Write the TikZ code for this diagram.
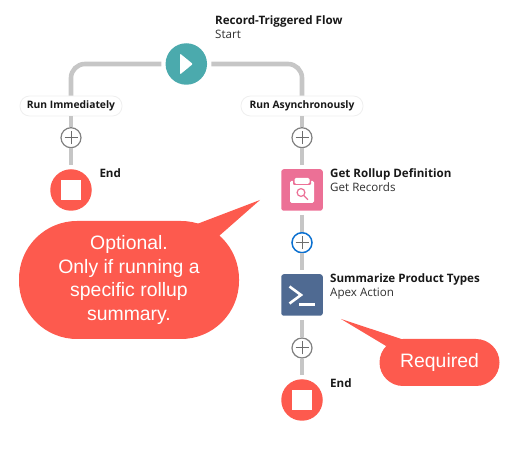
\documentclass[tikz,border=0pt]{standalone}
\usepackage{fontspec}
\setmainfont{Liberation Sans}
\newfontfamily\uifont{Open Sans}
\definecolor{flowred}{HTML}{FD5A4E}
\definecolor{flowteal}{HTML}{4BAAAD}
\definecolor{flowpink}{HTML}{EC7096}
\definecolor{flowslate}{HTML}{4F6A92}
\definecolor{flowline}{HTML}{C6C6C6}
\definecolor{plusgrey}{HTML}{808080}
\definecolor{plusblue}{HTML}{0B70D0}
\definecolor{pilledge}{HTML}{EFEFEF}
\definecolor{labeltext}{HTML}{181818}
\tikzset{
  x=1pt,y=-1pt,
  flow/.style={draw=flowline,line width=4.6pt},
  gapstart/.style={shorten <=4pt},
  gapend/.style={shorten >=4pt},
  circlenode/.style={circle,inner sep=0pt,minimum size=41.5pt},
  squarenode/.style={rectangle,rounded corners=2.5pt,inner sep=0pt,minimum size=41.5pt},
  pill/.style={rectangle,rounded corners=9.5pt,fill=white,draw=pilledge,line width=.8pt,inner sep=0pt,minimum height=20pt,
    font=\uifont\fontsize{10.3}{12}\selectfont\bfseries,text=labeltext},
  plusnode/.style={circle,fill=white,draw=#1,line width=1.2pt,inner sep=0pt,minimum size=20pt,
    path picture={\draw[plusgrey!85!black,line width=1pt]
      ([xshift=-6.5pt]path picture bounding box.center) -- ([xshift=6.5pt]path picture bounding box.center)
      ([yshift=-6.5pt]path picture bounding box.center) -- ([yshift=6.5pt]path picture bounding box.center);}},
  title/.style={anchor=base west,inner sep=0pt,font=\uifont\fontsize{11.6}{13}\selectfont\bfseries,text=labeltext},
  subtitle/.style={anchor=base west,inner sep=0pt,font=\uifont\fontsize{11.6}{13}\selectfont,text=labeltext!90!white},
  callout/.style={fill=flowred,text=white,inner sep=0pt,align=center,font=\fontsize{19.4}{23.6}\selectfont},
  stopmark/.style={fill=white},
}
\begin{document}
\begin{tikzpicture}
\useasboundingbox (0,0) rectangle (512,454);
% nodes
\node[circlenode,fill=flowteal] (start) at (186.3,64) {};
\node[pill,minimum width=102pt] (immediate) at (71,106) {Run Immediately};
\node[pill,minimum width=122pt] (async) at (302,106) {Run Asynchronously};
\node[plusnode=plusgrey] (plusa) at (71,137.7) {};
\node[plusnode=plusgrey] (plusb) at (302,137.7) {};
\node[circlenode,fill=flowred] (enda) at (71,190) {};
\node[squarenode,fill=flowpink] (getrec) at (302,190) {};
\node[plusnode=plusblue,line width=1.5pt] (plusc) at (302,242.7) {};
\node[squarenode,fill=flowslate] (apex) at (302,295) {};
\node[plusnode=plusgrey] (plusd) at (302,348) {};
\node[circlenode,fill=flowred] (endb) at (302,400) {};
% connectors
\draw[flow,gapstart,rounded corners=14pt] (start.west) -| (immediate.north);
\draw[flow,gapstart,rounded corners=14pt] (start.east) -| (async.north);
\draw[flow] (immediate.south) -- (plusa.north);
\draw[flow,gapend] (plusa.south) -- (enda.north);
\draw[flow] (async.south) -- (plusb.north);
\draw[flow,gapend] (plusb.south) -- (getrec.north);
\draw[flow,gapstart] (getrec.south) -- (plusc.north);
\draw[flow,gapend] (plusc.south) -- (apex.north);
\draw[flow,gapstart] (apex.south) -- (plusd.north);
\draw[flow,gapend] (plusd.south) -- (endb.north);
% icons
\fill[white,rounded corners=1pt] (180,53.5) -- (192.8,64) -- (180,74.5) -- cycle;
\fill[stopmark] (61,180) rectangle (81,200);
\fill[stopmark] (292,390) rectangle (312,410);
% clipboard
\fill[white,rounded corners=1.5pt] (290,181) rectangle (314,203);
\fill[flowpink,rounded corners=1pt] (293,176.5) rectangle (311,185);
\fill[white,rounded corners=1.5pt] (294.5,178) rectangle (309.5,184);
\draw[flowpink,line width=1.2pt] (301,192.5) circle (3.9pt) (303.8,195.5) -- (308,199.7);
% terminal
\draw[white,line width=2.6pt] (289.5,286.5) -- (301,295) -- (289.5,303.5);
\draw[white,line width=2.6pt] (299,304.8) -- (315,304.8);
% labels
\node[title] (t1) at (215,24.3) {Record-Triggered Flow};
\node[subtitle] (s1) at (215,38.3) {Start};
\node[title] (t2) at (99.3,177.3) {End};
\node[title] (t3) at (330,177.3) {Get Rollup Definition};
\node[subtitle] (s3) at (330,191.3) {Get Records};
\node[title] (t4) at (330,282.3) {Summarize Product Types};
\node[subtitle] (s4) at (330,296.3) {Apex Action};
\node[title] (t5) at (330,387.3) {End};
% callouts
\fill[flowred] (197,224) -- (260,200) -- (219,236) -- cycle;
\node[callout,rounded corners=58pt,minimum width=220pt,minimum height=118pt] (optional) at (129,280)
  {Optional.\\Only if running a\\specific rollup\\summary.};
\fill[flowred] (403,339.5) -- (341,319) -- (386,346) -- cycle;
\node[callout,rounded corners=23.5pt,minimum width=120pt,minimum height=47pt] (required) at (439.5,362.5) {Required};
\end{tikzpicture}
\end{document}
